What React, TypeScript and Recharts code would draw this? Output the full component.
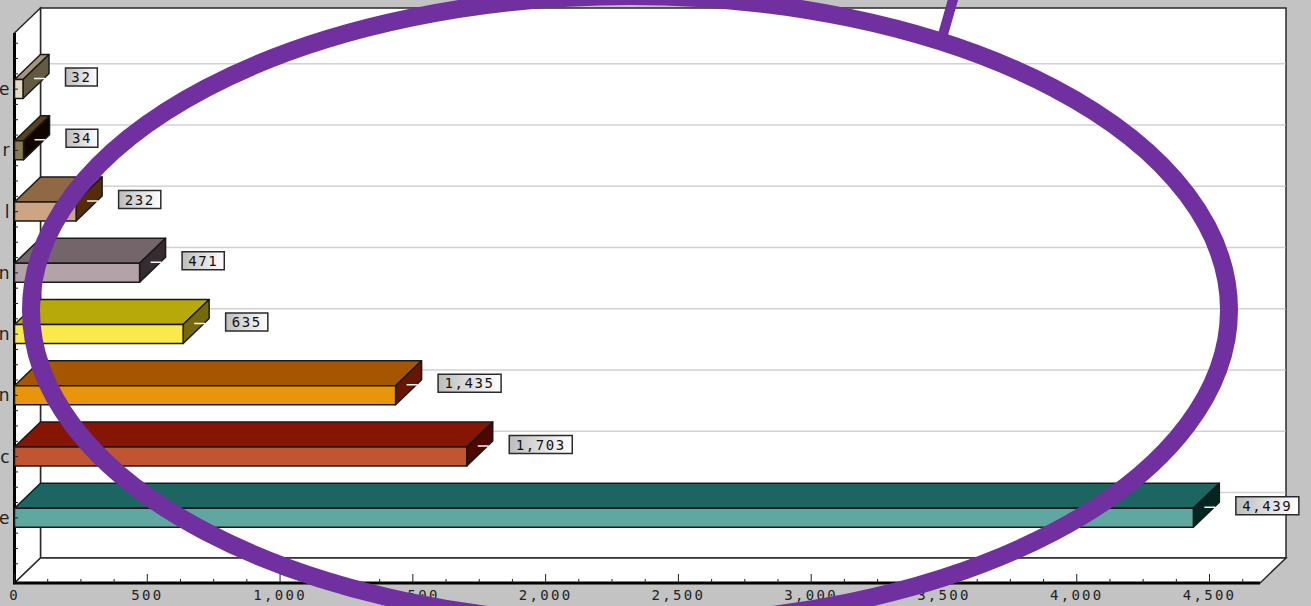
import React from 'react';
import { BarChart, Bar, XAxis, YAxis, CartesianGrid, LabelList, usePlotArea } from 'recharts';

// the names are cut off at the left edge of the picture, only the last letter shows
const categories = ['e', 'r', 'l', 'n', 'n', 'n', 'c', 'e'];
const values = [32, 34, 232, 471, 635, 1435, 1703, 4439];
const xTicks = [
  0, 125, 250, 375, 500, 625, 750, 875, 1000, 1125, 1250, 1375, 1500, 1625, 1750, 1875, 2000, 2125, 2250, 2375,
  2500, 2625, 2750, 2875, 3000, 3125, 3250, 3375, 3500, 3625, 3750, 3875, 4000, 4125, 4250, 4375, 4500, 4625,
];

const frontColors = ['#e6dcc3', '#8b7b52', '#cda584', '#b3a3a8', '#f9e94a', '#e8950c', '#c25531', '#5fa8a2'];
const topColors = ['#a4967b', '#56421c', '#8f6845', '#73656a', '#b8a90a', '#a65600', '#871503', '#1d6561'];
const sideColors = ['#645a41', '#120500', '#542d08', '#362b30', '#75690a', '#691503', '#4d0700', '#022622'];

const data = categories.map((name, i) => ({ name, value: values[i] }));

const DX = 26;
const DY = 25;
const EDGE = '#1a1a1a';
const MINOR_STEP = 15.3;
const TICK_FONT = '"DejaVu Sans Mono", monospace';

const Box3D = (props: any) => {
  const { x, y, width, height, index } = props;
  const r = x + width;
  const b = y + height;
  return (
    <g stroke={EDGE} strokeWidth={1.5} strokeLinejoin="round">
      <polygon points={`${x},${y} ${x + DX},${y - DY} ${r + DX},${y - DY} ${r},${y}`} fill={topColors[index]} />
      <polygon points={`${r},${y} ${r + DX},${y - DY} ${r + DX},${b - DY} ${r},${b}`} fill={sideColors[index]} />
      <rect x={x} y={y} width={width} height={height} fill={frontColors[index]} />
    </g>
  );
};

const ValueLabel = (props: any) => {
  const { x, y, width, value } = props;
  const text = Number(value).toLocaleString('en-US');
  const right = x + width;
  const boxW = text.length * 10.4 + 11;
  return (
    <g>
      <line x1={right + 11} x2={right + 22} y1={y - 1} y2={y - 1} stroke="#f4f4f4" strokeWidth={1.5} />
      <rect x={right + 42.5} y={y - 11.5} width={boxW} height={18} fill="url(#labelFill)" stroke="#2a2a2a" strokeWidth={1.5} />
      <text
        x={right + 42.5 + boxW / 2}
        y={y + 2.5}
        textAnchor="middle"
        fontFamily={TICK_FONT}
        fontSize={14}
        letterSpacing={1.6}
        fill="#111"
      >
        {text}
      </text>
    </g>
  );
};

const CategoryTick = (props: any) => {
  const { y, index, payload } = props;
  const steps = [-1, 0, 1, 2];
  if (index === 0) steps.push(-2, -3);
  if (index === categories.length - 1) steps.push(3);
  return (
    <g>
      {steps.map((k) => (
        <line key={k} x1={14} x2={18} y1={y + k * MINOR_STEP} y2={y + k * MINOR_STEP} stroke="#222" strokeWidth={1} />
      ))}
      <text x={9.5} y={y + 6} textAnchor="end" fontFamily='"DejaVu Sans", sans-serif' fontSize={17} fill="#222">
        {payload.value}
      </text>
    </g>
  );
};

const ValueTick = (props: any) => {
  const { x, y, payload } = props;
  const major = payload.value % 500 === 0;
  return (
    <g>
      <line x1={x} x2={x} y1={583} y2={583 - (major ? 9 : 4)} stroke="#222" strokeWidth={1} />
      {major && (
        <text x={x} y={y + 17} textAnchor="middle" fontFamily={TICK_FONT} fontSize={14} letterSpacing={2.3} fill="#222">
          {payload.value.toLocaleString('en-US')}
        </text>
      )}
    </g>
  );
};

// back wall, side wall and floor of the 3d box
const Walls = () => {
  const plot = usePlotArea();
  if (!plot) return null;
  const { x, y, width, height } = plot;
  const r = x + width;
  const b = y + height;
  return (
    <g fill="#fff" stroke="#2a2a2a" strokeWidth={1.5}>
      <defs>
        <linearGradient id="labelFill" x1="0" y1="0" x2="1" y2="0">
          <stop offset="0%" stopColor="#bdbdbd" />
          <stop offset="100%" stopColor="#ffffff" />
        </linearGradient>
      </defs>
      <rect x={x + DX} y={y - DY} width={width} height={height} />
      <polygon points={`${x},${y} ${x + DX},${y - DY} ${x + DX},${b - DY} ${x},${b}`} />
      <polygon points={`${x},${b} ${x + DX},${b - DY} ${r + DX},${b - DY} ${r},${b}`} />
    </g>
  );
};

const FrontAxes = () => {
  const plot = usePlotArea();
  if (!plot) return null;
  const { x, y, width, height } = plot;
  return (
    <path d={`M${x},${y} V${y + height} H${x + width}`} fill="none" stroke="#000" strokeWidth={3} />
  );
};

// hand drawn annotation on top of the chart
const Annotation = () => (
  <svg width={1311} height={606} style={{ position: 'absolute', left: 0, top: 0, pointerEvents: 'none' }}>
    <g fill="none" stroke="#7030a0">
      <ellipse cx={630} cy={310} rx={599} ry={314} strokeWidth={18} />
      <line x1={942} y1={38} x2={954} y2={-4} strokeWidth={10} />
    </g>
  </svg>
);

export default function App() {
  return (
    <div style={{ position: 'absolute', left: 0, top: 0, width: 1311, height: 606, background: '#c3c3c3', overflow: 'hidden' }}>
      <BarChart
        width={1311}
        height={606}
        data={data}
        layout="vertical"
        margin={{ top: 33, right: 51, bottom: 22, left: 13.5 }}
        barCategoryGap={0}
      >
        <Walls />
        <XAxis
          type="number"
          domain={[0, 4690]}
          ticks={xTicks}
          interval={0}
          height={1}
          axisLine={false}
          tickLine={false}
          tickSize={0}
          tickMargin={0}
          tick={<ValueTick />}
        />
        <YAxis
          yAxisId="front"
          type="category"
          dataKey="name"
          width={1}
          padding={{ top: 25.5, bottom: 34.5 }}
          interval={0}
          axisLine={false}
          tickLine={false}
          tick={<CategoryTick />}
        />
        {/* same bands moved onto the back wall, only used by the grid */}
        <YAxis yAxisId="wall" type="category" dataKey="name" hide width={1} padding={{ top: 0, bottom: 60 }} interval={0} />
        <CartesianGrid yAxisId="wall" vertical={false} stroke="#d2d2d2" strokeWidth={1.5} x={40.5} width={1245} syncWithTicks zIndex={1} />
        <FrontAxes />
        <Bar yAxisId="front" dataKey="value" barSize={19} shape={<Box3D />} isAnimationActive={false}>
          <LabelList dataKey="value" content={<ValueLabel />} />
        </Bar>
      </BarChart>
      <Annotation />
    </div>
  );
}
